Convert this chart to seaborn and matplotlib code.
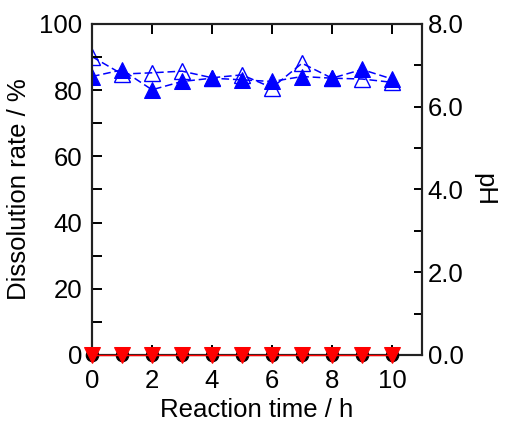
import numpy as np
import pandas as pd
import matplotlib
matplotlib.use("Agg")
import matplotlib.pyplot as plt
import seaborn as sns
from matplotlib.ticker import MultipleLocator, FormatStrFormatter

sns.set_style("white")
plt.rcParams['font.family'] = ['Liberation Sans', 'DejaVu Sans']
plt.rcParams['text.color'] = 'black'
plt.rcParams['axes.labelcolor'] = 'black'
plt.rcParams['xtick.color'] = 'black'
plt.rcParams['ytick.color'] = 'black'

time_h = [0, 1, 2, 3, 4, 5, 6, 7, 8, 9, 10]
dissolution_rate = [0, 0, 0, 0, 0, 0, 0, 0, 0, 0, 0]
ph_filled = [6.73, 6.89, 6.41, 6.61, 6.69, 6.65, 6.61, 6.73, 6.69, 6.90, 6.67]
ph_open = [7.21, 6.79, 6.82, 6.86, 6.70, 6.77, 6.46, 7.05, 6.69, 6.67, 6.59]

df_red = pd.DataFrame({"t": time_h, "rate": dissolution_rate})
df_blue = pd.DataFrame({"t": time_h, "ph_f": ph_filled, "ph_o": ph_open})

fig = plt.figure(figsize=(5.10, 4.23), dpi=100)
ax = fig.add_axes([0.1804, 0.1608, 0.6471, 0.7825])
ax2 = ax.twinx()

dash = (0, (5, 2.5))
# pH series (right axis)
sns.lineplot(data=df_blue, x="t", y="ph_o", ax=ax2, color="#0000ff", linestyle=dash,
             linewidth=1.1, marker="^", markersize=11, markerfacecolor="none",
             markeredgecolor="#0000ff", markeredgewidth=1.0, zorder=3)
sns.lineplot(data=df_blue, x="t", y="ph_f", ax=ax2, color="#0000ff", linestyle=dash,
             linewidth=1.1, marker="^", markersize=11, markerfacecolor="#0000ff",
             markeredgecolor="#0000ff", zorder=4)

# Dissolution rate (left axis)
sns.lineplot(data=df_red, x="t", y="rate", ax=ax, color="black", linewidth=0,
             marker="o", markersize=9, markerfacecolor="black", markeredgecolor="black",
             zorder=5, clip_on=False)
sns.lineplot(data=df_red, x="t", y="rate", ax=ax, color="red", linewidth=1.0,
             marker="v", markersize=11, markerfacecolor="red", markeredgecolor="red",
             zorder=6, clip_on=False)

ax.set_zorder(ax2.get_zorder() + 1)
ax.patch.set_visible(False)

ax.set_xlim(0, 11)
ax.set_ylim(0, 100)
ax2.set_ylim(0, 8)

ax.xaxis.set_major_locator(MultipleLocator(2))
ax.yaxis.set_major_locator(MultipleLocator(20))
ax.yaxis.set_minor_locator(MultipleLocator(10))
ax2.yaxis.set_major_locator(MultipleLocator(2))
ax2.yaxis.set_minor_locator(MultipleLocator(1))
ax2.yaxis.set_major_formatter(FormatStrFormatter('%.1f'))

fs = 18.5
ax.tick_params(axis='both', which='both', direction='in', labelsize=fs, width=1.4,
               length=7.5, colors='black', top=True, bottom=True, left=True, right=False)
ax.tick_params(axis='y', pad=7)
ax.tick_params(axis='x', pad=10)
ax2.tick_params(axis='y', which='both', direction='in', labelsize=fs, width=1.4,
                length=6, pad=4, colors='black')

for a in (ax, ax2):
    for s in a.spines.values():
        s.set_color('#222222')
        s.set_linewidth(1.5)

ax.set_xlabel("Reaction time / h", fontsize=fs, labelpad=4, color='black')
ax.set_ylabel("Dissolution rate / %", fontsize=fs, labelpad=6, color='black')
ax2.set_ylabel("pH", fontsize=fs, rotation=270, labelpad=24, color='black')

fig.savefig("out.png", dpi=100)
